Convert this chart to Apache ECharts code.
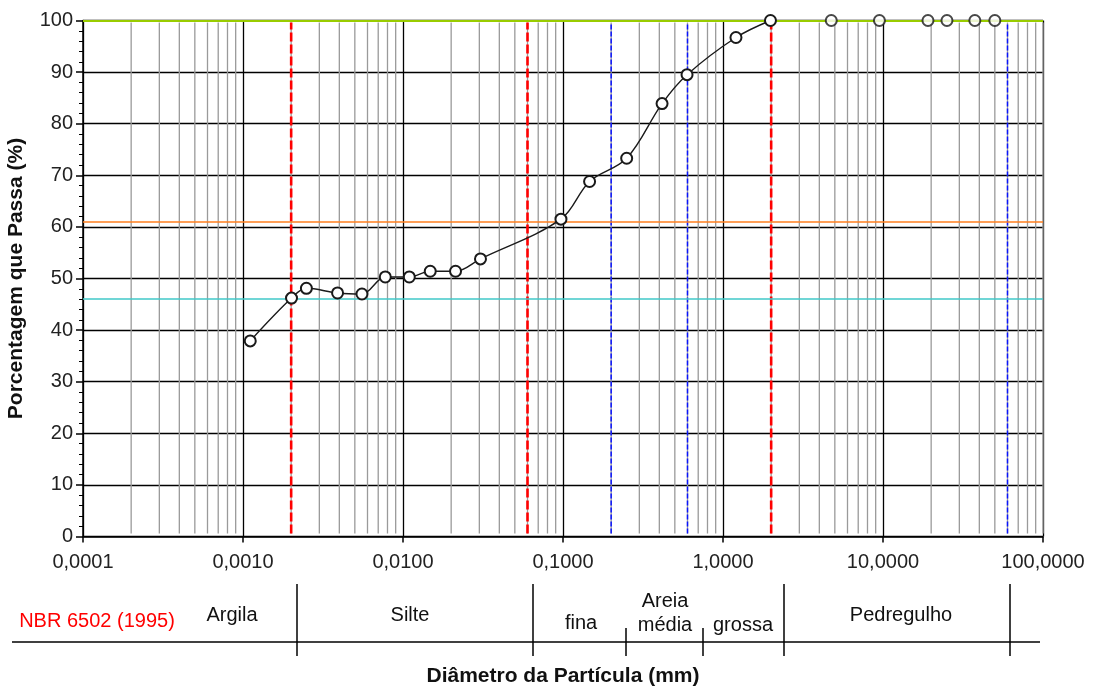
<!DOCTYPE html>
<html>
<head>
<meta charset="utf-8">
<script src="https://cdn.jsdelivr.net/npm/echarts@6/dist/echarts.min.js"></script>
<style>
html,body{margin:0;padding:0;background:#fff;}
#chart{width:1103px;height:690px;}
</style>
</head>
<body>
<div id="chart"></div>
<script>
// ---- data ----
var curveDiam = [0.00111, 0.00201, 0.00249, 0.0039, 0.00554, 0.00775, 0.01095, 0.0148, 0.0213, 0.0305, 0.0971, 0.1466, 0.25, 0.416, 0.596, 1.205, 1.98];
var curvePass = [37.9, 46.2, 48.1, 47.2, 47.0, 50.3, 50.3, 51.4, 51.4, 53.8, 61.5, 68.8, 73.3, 83.9, 89.5, 96.7, 100];
var gravelDiam = [4.75, 9.5, 19.1, 25.1, 37.5, 50];
var gravelPass = [100, 100, 100, 100, 100, 100];

var redLimits = [0.002, 0.06, 2];        // NBR 6502 boundaries (red dashed)
var blueLimits = [0.2, 0.6, 60];         // sand/gravel sub-limits (blue dotted)
var hLines = [100, 61, 46];              // horizontal reference lines
var hLineColors = ['#99cc00', '#ff7f1f', '#40c8c8'];

var xTickValues = [0.0001, 0.001, 0.01, 0.1, 1, 10, 100];
var minorMultipliers = [2, 3, 4, 5, 6, 7, 8, 9];

var tableTitle = 'NBR 6502 (1995)';
var tableLabels = ['Argila', 'Silte', 'fina', 'Areia', 'média', 'grossa', 'Pedregulho'];

var xTitle = 'Diâmetro da Partícula (mm)';
var yTitle = 'Porcentagem que Passa (%)';

// ---- build ----
var FONT = '"Liberation Sans", Arial, sans-serif';
var chart = echarts.init(document.getElementById('chart'), null, {renderer: 'canvas'});

function pairs(xs, ys) { return xs.map(function (x, i) { return [x, ys[i]]; }); }

var minorValues = [];
for (var d = 0; d < xTickValues.length - 1; d++) {
  minorMultipliers.forEach(function (m) { minorValues.push(xTickValues[d] * m); });
}
minorValues.push(xTickValues[xTickValues.length - 1]); // right border drawn grey

function vLineSeries(name, values, stroke, width, dash, z) {
  return {
    name: name, type: 'custom', silent: true, z: z,
    coordinateSystem: 'cartesian2d',
    encode: {x: 0, y: 1},
    data: values.map(function (v) { return [v, 0]; }),
    renderItem: function (params, api) {
      var x = api.value(0);
      var p0 = api.coord([x, 0]);
      var p1 = api.coord([x, 100]);
      return {type: 'line', shape: {x1: p0[0], y1: p0[1] - 3, x2: p1[0], y2: p1[1] + 2},
        style: {stroke: stroke, lineWidth: width, lineDash: dash || null, fill: null}};
    }
  };
}

var tableY = 642;
function line(x1, y1, x2, y2, w) {
  return {type: 'line', silent: true, shape: {x1: x1, y1: y1, x2: x2, y2: y2},
          style: {stroke: '#000', lineWidth: w || 1.5}};
}
function txt(x, y, s, color) {
  return {type: 'text', silent: true, x: x, y: y,
          style: {text: s, fill: color || '#111', font: '20px ' + FONT, align: 'center', verticalAlign: 'middle'}};
}

var option = {
  animation: false,
  backgroundColor: '#fff',
  grid: {left: 83, right: 60, top: 20.5, bottom: 153.5, containLabel: false, outerBoundsMode: 'none'},
  xAxis: {
    type: 'log', logBase: 10, min: 0.0001, max: 100,
    name: xTitle, nameLocation: 'middle', nameGap: 129,
    nameTextStyle: {fontFamily: FONT, fontWeight: 'bold', fontSize: 21, color: '#111'},
    axisLine: {show: true, onZero: false, lineStyle: {color: '#000', width: 1.5}},
    axisTick: {show: true, inside: false, length: 6, lineStyle: {color: '#000', width: 1.5}},
    axisLabel: {fontFamily: FONT, fontSize: 20, color: '#222', margin: 16,
      formatter: function (v) { return (+v).toFixed(4).replace('.', ','); }},
    splitLine: {show: true, lineStyle: {color: '#000', width: 1.3}}
  },
  yAxis: {
    type: 'value', min: 0, max: 100, interval: 10,
    name: yTitle, nameLocation: 'middle', nameGap: 56,
    nameTextStyle: {fontFamily: FONT, fontWeight: 'bold', fontSize: 21, color: '#111'},
    axisLine: {show: true, lineStyle: {color: '#000', width: 1.5}},
    axisTick: {show: true, inside: false, length: 7, lineStyle: {color: '#000', width: 1.5}},
    minorTick: {show: true, splitNumber: 5, length: 4, lineStyle: {color: '#000', width: 1}},
    axisLabel: {fontFamily: FONT, fontSize: 20, color: '#222', margin: 10},
    splitLine: {show: true, lineStyle: {color: '#000', width: 1.3}}
  },
  series: [
    vLineSeries('minor-grid', minorValues, '#9a9a9a', 1.3, null, 1),
    vLineSeries('limites-azul', blueLimits, '#0a14ff', 1.5, [5, 2], 3),
    vLineSeries('limites-vermelho', redLimits, '#ff0000', 2.6, [9, 3], 3),
    {
      name: 'hlines', type: 'line', data: [], silent: true, z: 2,
      markLine: {silent: true, symbol: ['none', 'none'], label: {show: false},
        data: hLines.map(function (v, i) { return {yAxis: v, lineStyle: {color: hLineColors[i], width: i === 0 ? 2 : 1.6, type: 'solid'}}; })}
    },
    {
      name: 'curva', type: 'line', z: 5, smooth: 0.35,
      data: pairs(curveDiam, curvePass),
      symbol: 'emptyCircle', symbolSize: 11,
      lineStyle: {color: '#1a1a1a', width: 1.4},
      itemStyle: {color: '#1a1a1a', borderColor: '#1a1a1a', borderWidth: 1.4}
    },
    {
      name: 'pedregulho', type: 'scatter', z: 5,
      data: pairs(gravelDiam, gravelPass),
      symbol: 'emptyCircle', symbolSize: 11,
      itemStyle: {color: '#1a1a1a', borderColor: '#1a1a1a', borderWidth: 1.4}
    }
  ],
  graphic: [
    line(12, tableY, 1040, tableY, 1.6),
    line(297, 584, 297, 656),
    line(533, 584, 533, 656),
    line(626, 628, 626, 656),
    line(703, 628, 703, 656),
    line(784, 584, 784, 656),
    line(1010, 584, 1010, 656),
    txt(97, 621, tableTitle, '#ff0000'),
    txt(232, 615, tableLabels[0]),
    txt(410, 615, tableLabels[1]),
    txt(581, 623, tableLabels[2]),
    txt(665, 601, tableLabels[3]),
    txt(665, 625, tableLabels[4]),
    txt(743, 625, tableLabels[5]),
    txt(901, 615, tableLabels[6])
  ]
};
chart.setOption(option);
</script>
</body>
</html>
